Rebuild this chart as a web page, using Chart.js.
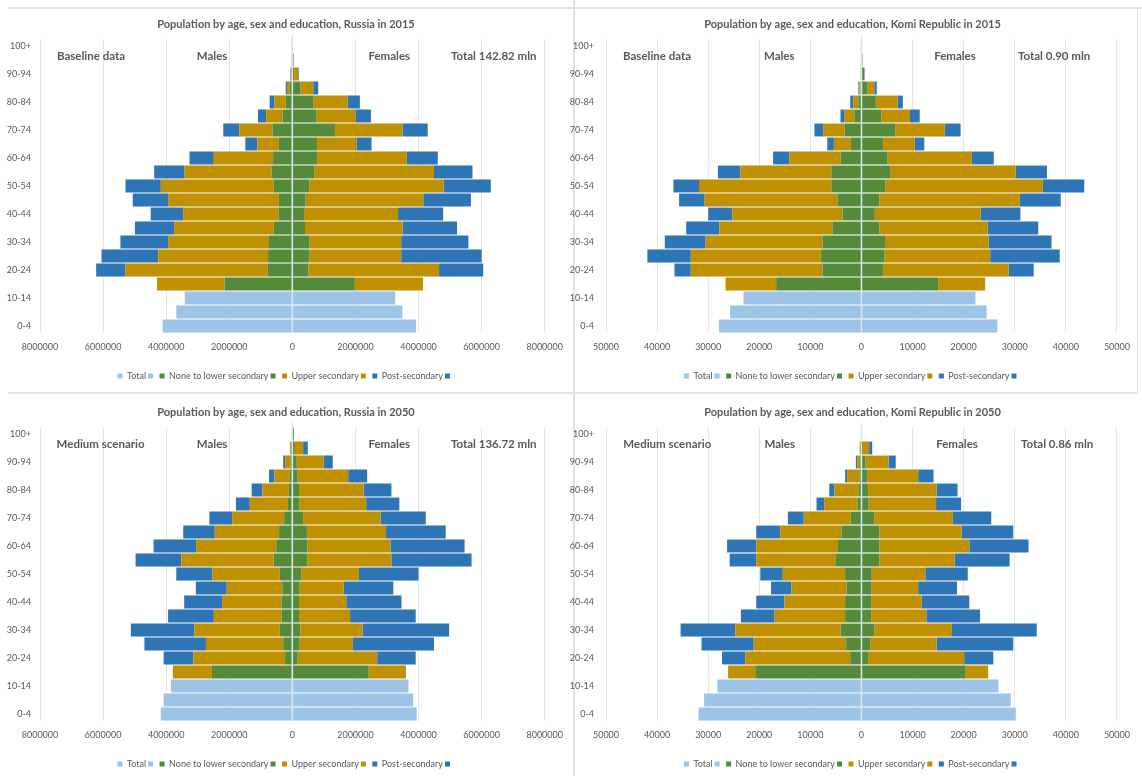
<!DOCTYPE html>
<html>
<head>
<meta charset="utf-8">
<script src="https://cdn.jsdelivr.net/npm/chart.js@4.4.1/dist/chart.umd.min.js"></script>
<style>
  html, body { margin: 0; padding: 0; background: #fff; }
  body { width: 1142px; height: 776px; overflow: hidden; position: relative; }
  .panel { position: absolute; }
  .rule { position: absolute; background: #e2e2e2; }
</style>
</head>
<body>
<div class="rule" style="left:8px;top:7px;width:1134px;height:2px"></div>
<div class="rule" style="left:8px;top:392px;width:1130px;height:2px"></div>
<div class="rule" style="left:573px;top:0;width:2px;height:776px"></div>
<div class="rule" style="left:1137px;top:7px;width:1px;height:386px"></div>

<div class="panel" style="left:0;top:8px"><canvas id="c-ru15" width="572" height="385"></canvas></div>
<div class="panel" style="left:566px;top:8px"><canvas id="c-ko15" width="573" height="385"></canvas></div>
<div class="panel" style="left:0;top:396px"><canvas id="c-ru50" width="572" height="385"></canvas></div>
<div class="panel" style="left:566px;top:396px"><canvas id="c-ko50" width="573" height="385"></canvas></div>

<script>
// age groups, youngest first (0-14 only have a total, 15+ are split by education)
const ageLabels = ['0-4','5-9','10-14','15-19','20-24','25-29','30-34','35-39','40-44','45-49',
  '50-54','55-59','60-64','65-69','70-74','75-79','80-84','85-89','90-94','95-99','100+'];
const seriesNames = ['Total', 'None to lower secondary', 'Upper secondary', 'Post-secondary'];

// Russia 2015
const ru15MaleTotal   = [4110000, 3680000, 3410000];
const ru15FemaleTotal = [3920000, 3490000, 3260000];
const ru15MaleNone    = [2150000, 780000, 770000, 740000, 590000, 430000, 430000, 590000, 660000, 610000, 430000, 630000, 310000, 210000, 80000, 30000, 10000, 2000];
const ru15MaleUpper   = [2140000, 4510000, 3480000, 3200000, 3160000, 3030000, 3510000, 3580000, 2770000, 1880000, 680000, 1050000, 520000, 360000, 90000, 30000, 5000, 1000];
const ru15MalePost    = [0, 930000, 1800000, 1510000, 1240000, 1030000, 1120000, 1120000, 950000, 770000, 380000, 510000, 260000, 150000, 40000, 10000, 3000, 0];
const ru15FemaleNone  = [1980000, 510000, 540000, 540000, 400000, 370000, 420000, 540000, 690000, 780000, 780000, 1350000, 770000, 660000, 260000, 60000, 15000, 3000];
const ru15FemaleUpper = [2160000, 4140000, 2910000, 2910000, 3090000, 2980000, 3730000, 4260000, 3800000, 2850000, 1250000, 2140000, 1230000, 1090000, 400000, 130000, 25000, 2000];
const ru15FemalePost  = [0, 1400000, 2550000, 2130000, 1730000, 1430000, 1510000, 1490000, 1220000, 980000, 480000, 800000, 490000, 390000, 160000, 20000, 10000, 1000];

// Komi Republic 2015
const ko15MaleTotal   = [27900, 25700, 23100];
const ko15FemaleTotal = [26600, 24500, 22300];
const ko15MaleNone    = [16700, 7600, 8000, 7600, 5700, 3700, 4700, 5900, 5900, 4100, 2100, 3300, 1400, 600, 200, 100, 20, 5];
const ko15MaleUpper   = [9900, 25800, 25400, 22900, 22100, 21600, 26000, 25900, 17800, 10000, 3300, 4200, 1900, 1000, 200, 50, 10, 0];
const ko15MalePost    = [0, 3200, 8500, 8000, 6500, 4700, 5000, 5000, 4400, 3200, 1300, 1700, 800, 600, 200, 0, 0, 0];
const ko15FemaleNone  = [15000, 4200, 4500, 4600, 3500, 2600, 3500, 4700, 5600, 5100, 4200, 6600, 3900, 2800, 1200, 600, 200, 50];
const ko15FemaleUpper = [9200, 24600, 20700, 20300, 21200, 20700, 27500, 30800, 24600, 16500, 6200, 9700, 5600, 4300, 1300, 0, 0, 0];
const ko15FemalePost  = [0, 4900, 13600, 12300, 9900, 7800, 8000, 8100, 6100, 4300, 1900, 3100, 1900, 1000, 500, 0, 0, 0];

// Russia 2050, medium scenario
const ru50MaleTotal   = [4170000, 4080000, 3850000];
const ru50FemaleTotal = [3940000, 3830000, 3680000];
const ru50MaleNone    = [2550000, 230000, 290000, 400000, 340000, 340000, 320000, 400000, 590000, 510000, 420000, 260000, 140000, 110000, 80000, 60000, 40000, 10000];
const ru50MaleUpper   = [1240000, 2910000, 2450000, 2710000, 2150000, 1890000, 1760000, 2140000, 2930000, 2540000, 2040000, 1650000, 1210000, 840000, 490000, 170000, 30000, 0];
const ru50MalePost    = [0, 940000, 1950000, 2010000, 1450000, 1200000, 980000, 1140000, 1450000, 1350000, 1000000, 720000, 440000, 340000, 170000, 60000, 0, 0];
const ru50FemaleNone  = [2420000, 170000, 230000, 250000, 210000, 210000, 230000, 290000, 480000, 480000, 460000, 340000, 230000, 210000, 170000, 140000, 80000, 50000];
const ru50FemaleUpper = [1180000, 2520000, 1690000, 1980000, 1620000, 1500000, 1400000, 1820000, 2660000, 2630000, 2510000, 2460000, 2110000, 2050000, 1600000, 850000, 260000, 0];
const ru50FemalePost  = [0, 1220000, 2570000, 2740000, 2080000, 1750000, 1570000, 1890000, 2540000, 2350000, 1890000, 1430000, 1050000, 880000, 600000, 290000, 150000, 0];

// Komi Republic 2050, medium scenario
const ko50MaleTotal   = [31900, 30800, 28200];
const ko50FemaleTotal = [30200, 29200, 26800];
const ko50MaleNone    = [20800, 2200, 3000, 4100, 3200, 3200, 2900, 3200, 5000, 4600, 3900, 2100, 800, 600, 400, 200, 100, 50];
const ko50MaleUpper   = [5300, 20500, 18100, 20600, 13800, 11900, 10800, 12200, 15600, 16000, 12000, 9200, 6500, 4700, 2400, 600, 250, 0];
const ko50MalePost    = [0, 4600, 10200, 10700, 6600, 5500, 4000, 4400, 5200, 5700, 4700, 3100, 1500, 1000, 400, 300, 0, 0];
const ko50FemaleNone  = [20400, 1300, 1700, 2500, 1900, 1900, 1900, 2000, 3500, 3500, 3500, 2500, 1400, 1300, 1200, 800, 300, 100];
const ko50FemaleUpper = [4400, 18800, 13000, 15200, 10800, 9900, 9200, 10500, 14700, 17600, 16100, 15400, 13200, 13400, 9900, 4500, 1200, 0];
const ko50FemalePost  = [0, 5700, 15000, 16600, 10500, 9300, 7600, 8300, 10800, 11600, 10100, 7500, 4900, 4100, 3000, 1400, 600, 0];

const PALETTE = ['#9dc3e6', '#548a3a', '#bf9000', '#2e75b6'];
const FONT = "Lato, 'Liberation Sans', sans-serif";
const GREY = '#595959';

Chart.defaults.font.family = FONT;
Chart.defaults.color = GREY;
Chart.defaults.animation = false;

// kids rows only exist for 0-14, education rows only for 15+
const kids = v => v.concat(Array(ageLabels.length - v.length).fill(null));
const adults = v => Array(ageLabels.length - v.length).fill(null).concat(v);
const neg = v => v.map(x => x === null ? null : -x);

// corner notes + the light axis line drawn over the bars at 0
const pyramidNotes = {
  id: 'pyramidNotes',
  afterDatasetsDraw(chart, args, opts) {
    const { ctx, chartArea: a, scales: { x } } = chart;
    const x0 = x.getPixelForValue(0);
    ctx.save();
    ctx.strokeStyle = '#dbe6f2';
    ctx.lineWidth = 1.5;
    ctx.beginPath();
    ctx.moveTo(x0, a.top - 4);
    ctx.lineTo(x0, a.bottom);
    ctx.stroke();
    ctx.font = 'bold 11.5px ' + FONT;
    ctx.fillStyle = GREY;
    ctx.textAlign = 'center';
    ctx.textBaseline = 'middle';
    (opts.notes || []).forEach(n => ctx.fillText(n.text, a.left + n.at * a.width, a.top + 17));
    ctx.restore();
  }
};

function pyramid(id, cfg) {
  const sets = [
    [kids(cfg.maleTotal), kids(cfg.femaleTotal)],
    [adults(cfg.maleNone), adults(cfg.femaleNone)],
    [adults(cfg.maleUpper), adults(cfg.femaleUpper)],
    [adults(cfg.malePost), adults(cfg.femalePost)],
  ];
  const datasets = [];
  sets.forEach(([m, f], i) => {
    datasets.push({ label: seriesNames[i], data: neg(m), backgroundColor: PALETTE[i], borderWidth: 0,
                    barPercentage: 0.92, categoryPercentage: 1 });
    datasets.push({ label: '', data: f, backgroundColor: PALETTE[i], borderWidth: 0,
                    barPercentage: 0.92, categoryPercentage: 1 });
  });

  return new Chart(document.getElementById(id), {
    type: 'bar',
    data: { labels: ageLabels, datasets },
    options: {
      responsive: false,
      indexAxis: 'y',
      layout: { padding: { left: 0, right: 0, top: 0, bottom: 2.5 } },
      plugins: {
        title: {
          display: true, text: cfg.title, color: GREY,
          font: { size: 11, weight: 'bold' }, padding: { top: 10, bottom: 7.8 },
        },
        legend: {
          position: 'bottom',
          labels: { boxWidth: 5, boxHeight: 5, padding: 2, color: GREY, font: { size: 9 } },
        },
        tooltip: { enabled: false },
        pyramidNotes: { notes: cfg.notes },
      },
      scales: {
        x: {
          stacked: true, min: -cfg.max, max: cfg.max,
          afterFit: s => { s.height = 36.5; },
          ticks: { stepSize: cfg.step, padding: 9, font: { size: 9 }, color: GREY,
                   callback: v => String(Math.abs(v)) },
          grid: { color: '#e6e6e6', drawTicks: false },
          border: { display: false },
        },
        y: {
          stacked: true, reverse: true,
          afterFit: s => { s.width = 40; },
          ticks: { autoSkip: false, padding: cfg.yPad, font: { size: 9 }, color: GREY,
                   callback: (v, i) => i % 2 === 0 ? ageLabels[i] : '' },
          grid: { display: false, drawTicks: false },
          border: { display: false },
        },
      },
    },
    plugins: [pyramidNotes],
  });
}

pyramid('c-ru15', {
  title: 'Population by age, sex and education, Russia in 2015', max: 8000000, step: 2000000, yPad: 9,
  maleTotal: ru15MaleTotal, femaleTotal: ru15FemaleTotal,
  maleNone: ru15MaleNone, femaleNone: ru15FemaleNone,
  maleUpper: ru15MaleUpper, femaleUpper: ru15FemaleUpper,
  malePost: ru15MalePost, femalePost: ru15FemalePost,
  notes: [{ text: 'Baseline data', at: 0.101 }, { text: 'Males', at: 0.341 },
          { text: 'Females', at: 0.692 }, { text: 'Total 142.82 mln', at: 0.899 }],
});

pyramid('c-ko15', {
  title: 'Population by age, sex and education, Komi Republic in 2015', max: 50000, step: 10000, yPad: 12,
  maleTotal: ko15MaleTotal, femaleTotal: ko15FemaleTotal,
  maleNone: ko15MaleNone, femaleNone: ko15FemaleNone,
  maleUpper: ko15MaleUpper, femaleUpper: ko15FemaleUpper,
  malePost: ko15MalePost, femalePost: ko15FemalePost,
  notes: [{ text: 'Baseline data', at: 0.100 }, { text: 'Males', at: 0.339 },
          { text: 'Females', at: 0.683 }, { text: 'Total 0.90 mln', at: 0.877 }],
});

pyramid('c-ru50', {
  title: 'Population by age, sex and education, Russia in 2050', max: 8000000, step: 2000000, yPad: 9,
  maleTotal: ru50MaleTotal, femaleTotal: ru50FemaleTotal,
  maleNone: ru50MaleNone, femaleNone: ru50FemaleNone,
  maleUpper: ru50MaleUpper, femaleUpper: ru50FemaleUpper,
  malePost: ru50MalePost, femalePost: ru50FemalePost,
  notes: [{ text: 'Medium scenario', at: 0.120 }, { text: 'Males', at: 0.341 },
          { text: 'Females', at: 0.692 }, { text: 'Total 136.72 mln', at: 0.899 }],
});

pyramid('c-ko50', {
  title: 'Population by age, sex and education, Komi Republic in 2050', max: 50000, step: 10000, yPad: 12,
  maleTotal: ko50MaleTotal, femaleTotal: ko50FemaleTotal,
  maleNone: ko50MaleNone, femaleNone: ko50FemaleNone,
  maleUpper: ko50MaleUpper, femaleUpper: ko50FemaleUpper,
  malePost: ko50MalePost, femalePost: ko50FemalePost,
  notes: [{ text: 'Medium scenario', at: 0.120 }, { text: 'Males', at: 0.340 },
          { text: 'Females', at: 0.687 }, { text: 'Total 0.86 mln', at: 0.883 }],
});
</script>
</body>
</html>
